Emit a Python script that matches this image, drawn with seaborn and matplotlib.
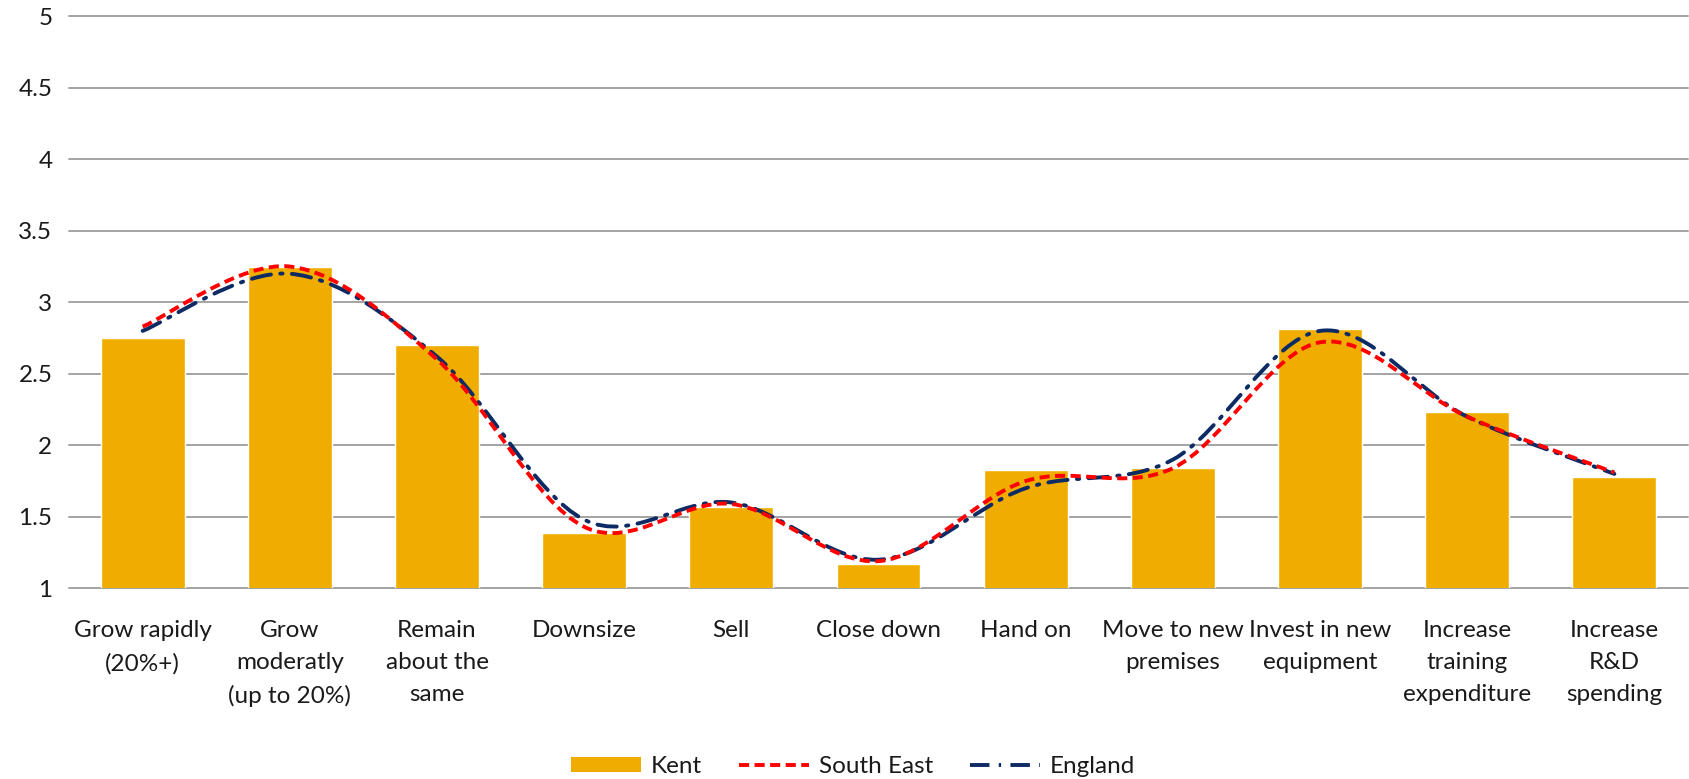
import numpy as np
import pandas as pd
import matplotlib
matplotlib.use('Agg')
import matplotlib.pyplot as plt
from matplotlib.path import Path
from matplotlib.patches import PathPatch, Patch
from matplotlib.lines import Line2D
import seaborn as sns

categories = ['Grow rapidly\n(20%+)', 'Grow\nmoderatly\n(up to 20%)', 'Remain\nabout the\nsame',
              'Downsize', 'Sell', 'Close down', 'Hand on', 'Move to new\npremises',
              'Invest in new\nequipment', 'Increase\ntraining\nexpenditure', 'Increase\nR&D\nspending']
kent = [2.75, 3.25, 2.70, 1.39, 1.57, 1.17, 1.83, 1.84, 2.81, 2.23, 1.78]
south_east = [2.83, 3.25, 2.60, 1.43, 1.59, 1.19, 1.75, 1.84, 2.72, 2.20, 1.81]
england = [2.80, 3.20, 2.62, 1.48, 1.60, 1.20, 1.70, 1.90, 2.80, 2.20, 1.80]
y_ticks = [1, 1.5, 2, 2.5, 3, 3.5, 4, 4.5, 5]
y_tick_labels = ['1', '1.5', '2', '2.5', '3', '3.5', '4', '4.5', '5']

GOLD = '#F0AD00'
RED = '#FF0000'
NAVY = '#0C2A63'
GRID = '#A3A3A3'
FS = 17.5


def smooth_path(y):
    # Excel style "smoothed line": cubic bezier between each pair of points
    pts = [(float(i), float(v)) for i, v in enumerate(y)]
    n = len(pts)
    verts = [pts[0]]
    codes = [Path.MOVETO]
    for i in range(n - 1):
        p0 = pts[max(i - 1, 0)]
        p1 = pts[i]
        p2 = pts[i + 1]
        p3 = pts[min(i + 2, n - 1)]
        c1 = (p1[0] + (p2[0] - p0[0]) / 6, p1[1] + (p2[1] - p0[1]) / 6)
        c2 = (p2[0] - (p3[0] - p1[0]) / 6, p2[1] - (p3[1] - p1[1]) / 6)
        verts += [c1, c2, p2]
        codes += [Path.CURVE4] * 3
    return Path(verts, codes)


sns.set_theme(style='white')
plt.rcParams['font.family'] = ['Lato', 'DejaVu Sans']

df = pd.DataFrame({'category': categories, 'Kent': kent})

fig = plt.figure(figsize=(16.89, 7.79), dpi=100)
ax = fig.add_axes([0.0409, 0.2448, 0.9585, 0.7343])

sns.barplot(data=df, x='category', y='Kent', color=GOLD, saturation=1, width=0.57, ax=ax, zorder=2)

se_dash = (0, (2.6, 1.4))
en_dash = (0, (5, 2.4, 0.6, 2.4))
ax.add_patch(PathPatch(smooth_path(england), fill=False, edgecolor=NAVY, lw=2.8,
                       linestyle=en_dash, capstyle='round', zorder=3))
ax.add_patch(PathPatch(smooth_path(south_east), fill=False, edgecolor=RED, lw=2.8,
                       linestyle=se_dash, capstyle='butt', zorder=4))

ax.set_xlim(-0.5, len(categories) - 0.5)
ax.set_ylim(1, 5)
ax.set_yticks(y_ticks)
ax.set_yticklabels(y_tick_labels)
ax.set_xlabel('')
ax.set_ylabel('')
ax.yaxis.grid(True, color=GRID, lw=1.4)
ax.set_axisbelow(True)
for gl in ax.get_ygridlines():
    gl.set_clip_on(False)
for s in ax.spines.values():
    s.set_visible(False)
ax.tick_params(axis='y', length=0, pad=12, labelsize=FS, labelcolor='#1a1a1a')
ax.tick_params(axis='x', length=0, pad=23, labelsize=FS, labelcolor='#1a1a1a')
for t in ax.get_xticklabels():
    t.set_linespacing(1.65)

handles = [Patch(facecolor=GOLD, edgecolor='none', label='Kent'),
           Line2D([], [], color=RED, lw=2.8, linestyle=se_dash, label='South East'),
           Line2D([], [], color=NAVY, lw=2.8, linestyle=en_dash, label='England')]
fig.legend(handles=handles, loc='center', bbox_to_anchor=(0.505, 0.016), ncol=3, frameon=False,
           fontsize=FS, handlelength=2.9, handleheight=0.6, handletextpad=0.4, columnspacing=1.5,
           labelcolor='#1a1a1a')

fig.savefig('out.png', dpi=100)
